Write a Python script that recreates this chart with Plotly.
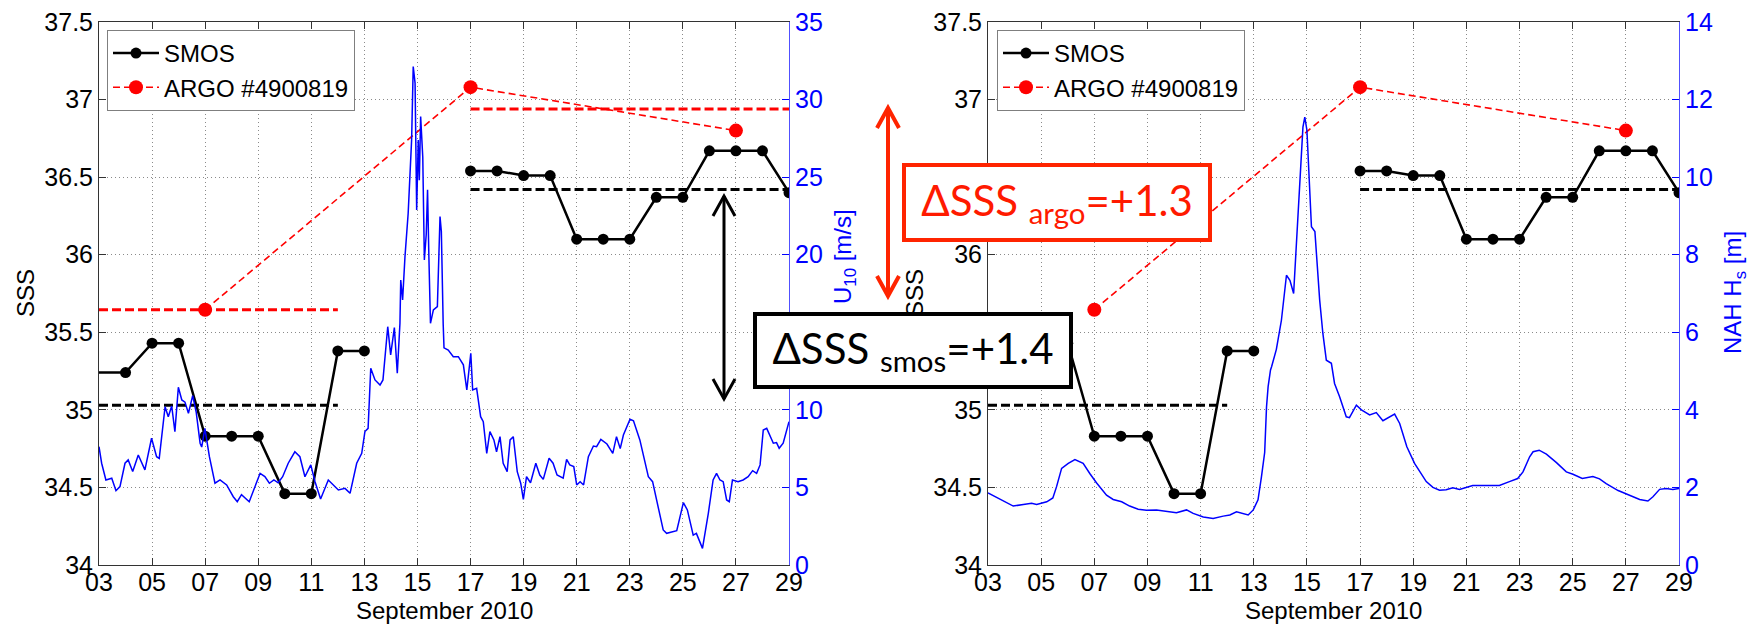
import plotly.graph_objects as go

W, H = 1752, 626

# ---------------- data ----------------
smos_days = [2, 4, 5, 6, 7, 8, 9, 10, 11, 12, 13, None,
             17, 18, 19, 20, 21, 22, 23, 24, 25, 26, 27, 28, 29]
smos_sss = [35.24, 35.24, 35.43, 35.43, 34.83, 34.83, 34.83, 34.46, 34.46, 35.38, 35.38, None,
            36.54, 36.54, 36.51, 36.51, 36.10, 36.10, 36.10, 36.37, 36.37, 36.67, 36.67, 36.67, 36.40]

argo_days = [7, 17, 27]
argo_sss = [35.645, 37.08, 36.80]

mean_periods = [(3, 12), (17, 29)]
smos_means = [35.03, 36.42]
argo_means = [35.645, 36.94]

wind_days = [3.00, 3.10, 3.26, 3.48, 3.64, 3.79, 3.98, 4.10, 4.27, 4.48, 4.73, 4.98, 5.17, 5.27,
             5.49, 5.61, 5.74, 5.86, 5.99, 6.12, 6.24, 6.37, 6.53, 6.66, 6.81, 6.87, 6.99, 7.16,
             7.37, 7.56, 7.81, 8.06, 8.21, 8.37, 8.66, 8.81, 9.07, 9.25, 9.42, 9.59, 9.75, 9.92,
             10.13, 10.38, 10.57, 10.76, 10.98, 11.14, 11.35, 11.64, 11.83, 12.02, 12.27, 12.46,
             12.71, 12.90, 13.02, 13.14, 13.24, 13.40, 13.59, 13.70, 13.88, 13.99, 14.13, 14.24,
             14.34, 14.37, 14.44, 14.53, 14.65, 14.78, 14.84, 14.91, 14.97, 15.03, 15.07, 15.12,
             15.20, 15.26, 15.33, 15.38, 15.43, 15.49, 15.60, 15.75, 15.85, 15.90, 15.97, 16.00,
             16.16, 16.35, 16.54, 16.73, 16.86, 17.01, 17.08, 17.23, 17.38, 17.48, 17.61, 17.73,
             17.88, 17.98, 18.11, 18.23, 18.38, 18.49, 18.61, 18.76, 18.89, 18.99, 19.11, 19.26,
             19.46, 19.61, 19.74, 19.96, 20.11, 20.26, 20.49, 20.62, 20.74, 20.89, 21.00, 21.13,
             21.26, 21.44, 21.63, 21.75, 21.91, 22.14, 22.36, 22.50, 22.64, 22.76, 23.01, 23.14,
             23.38, 23.70, 23.86, 24.08, 24.26, 24.39, 24.77, 25.02, 25.17, 25.39, 25.51, 25.74,
             25.96, 26.14, 26.27, 26.40, 26.52, 26.65, 26.75, 26.87, 27.08, 27.27, 27.46, 27.63,
             27.78, 27.91, 28.03, 28.16, 28.41, 28.53, 28.63, 28.78, 29.00]
wind_u10 = [7.63, 6.56, 5.48, 5.59, 4.79, 5.05, 6.56, 6.77, 6.02, 7.09, 6.13, 8.17, 6.98, 6.87,
            10.2, 9.56, 10.25, 8.6, 11.46, 10.64, 10.5, 9.78, 10.92, 9.88, 7.85, 7.6, 8.81, 6.98,
            5.27, 5.48, 5.16, 4.4, 4.08, 4.53, 4.08, 4.8, 5.91, 5.7, 5.27, 5.48, 5.3, 5.69,
            6.56, 7.3, 6.98, 5.69, 6.45, 5.37, 4.25, 5.48, 5.16, 4.84, 4.94, 4.62,
            6.56, 7.2, 8.6, 8.81, 12.68, 11.93, 11.6, 11.93, 15.36, 13.54, 15.3, 12.36,
            15.58, 18.37, 17.09, 19.88, 22.67, 27.4, 32.13, 31.06, 22.89, 27.4, 24.8, 28.9,
            26.3, 19.66, 21.3, 24.18, 19.9, 15.58, 16.44, 16.66, 22.46, 21.5, 15.5, 14.0,
            13.86, 13.43, 13.43, 12.9, 11.28, 13.65, 11.28, 11.39, 9.56, 9.24, 7.2, 8.6,
            8.06, 7.3, 8.27, 6.56, 6.02, 8.06, 8.27, 6.02, 5.27, 4.23, 5.69, 5.3,
            6.56, 5.8, 5.52, 6.88, 6.56, 5.8, 5.6, 6.81, 6.45, 6.34, 5.16, 5.37,
            5.16, 6.98, 7.67, 7.63, 8.1, 7.8, 7.2, 8.27, 7.5, 8.38, 9.39, 9.3,
            8.06, 5.69, 5.37, 3.76, 2.26, 2.04, 2.21, 4.02, 3.55, 1.93, 2.04, 1.07,
            3.33, 5.48, 5.91, 5.48, 5.37, 4.19, 4.08, 5.48, 5.37, 5.48, 5.69, 6.08,
            5.91, 6.45, 8.7, 8.81, 7.85, 7.89, 7.52, 7.85, 9.24]

hs_days = [3.00, 3.45, 3.95, 4.33, 4.64, 4.83, 5.21, 5.44, 5.58, 5.77, 6.02, 6.27, 6.58, 6.83,
           7.08, 7.46, 7.71, 8.03, 8.33, 8.65, 8.96, 9.34, 9.71, 10.09, 10.47, 10.72, 11.10,
           11.47, 11.85, 12.10, 12.35, 12.60, 12.79, 12.98, 13.16, 13.29, 13.41, 13.48, 13.54,
           13.63, 13.67, 13.85, 13.98, 14.04, 14.23, 14.36, 14.50, 14.66, 14.85, 14.92, 15.00,
           15.17, 15.30, 15.48, 15.60, 15.73, 15.92, 16.04, 16.23, 16.48, 16.60, 16.86, 17.05,
           17.36, 17.61, 17.86, 18.11, 18.30, 18.49, 18.76, 19.05, 19.49, 19.74, 19.99, 20.24,
           20.49, 20.74, 20.99, 21.24, 21.74, 22.24, 22.62, 22.93, 23.13, 23.38, 23.51, 23.74,
           24.01, 24.39, 24.76, 25.01, 25.36, 25.76, 26.01, 26.26, 26.71, 27.02, 27.27, 27.52,
           27.83, 28.02, 28.27, 28.52, 28.77, 29.00]
hs_m = [1.86, 1.69, 1.52, 1.56, 1.59, 1.56, 1.63, 1.73, 2.02, 2.49, 2.62, 2.72, 2.62, 2.36,
        2.12, 1.80, 1.69, 1.63, 1.52, 1.44, 1.41, 1.42, 1.38, 1.35, 1.42, 1.33, 1.24,
        1.20, 1.26, 1.29, 1.37, 1.33, 1.29, 1.42, 1.68, 2.28, 2.9, 4.08, 4.6,
        5.03, 5.11, 5.56, 6.06, 6.31, 7.47, 7.34, 7.0, 8.89, 11.29, 11.55, 11.21,
        8.72, 8.6, 6.83, 5.97, 5.28, 5.2, 4.68, 4.34, 3.82, 3.8, 4.12, 4.0,
        3.87, 3.93, 3.72, 3.82, 3.89, 3.65, 3.05, 2.62, 2.15, 2.0, 1.93, 1.94,
        1.99, 1.95, 2.0, 2.05, 2.05, 2.05, 2.15, 2.23, 2.4, 2.79, 2.92, 2.96,
        2.86, 2.64, 2.4, 2.34, 2.23, 2.28, 2.22, 2.1, 1.92, 1.83, 1.76, 1.69,
        1.65, 1.76, 1.95, 1.97, 1.95, 1.97]

x_tickvals = list(range(3, 30, 2))
x_ticktext = ["%02d" % d for d in x_tickvals]
sss_ticks = [34, 34.5, 35, 35.5, 36, 36.5, 37, 37.5]
u10_ticks = [0, 5, 10, 15, 20, 25, 30, 35]
hs_ticks = [0, 2, 4, 6, 8, 10, 12, 14]

# ---------------- styling ----------------
TICKFONT = "Liberation Sans, Arial, sans-serif"
BOXFONT = "Lato, 'Noto Sans', sans-serif"
BLUE = "#0000FF"
RED = "#FF0000"
ORANGE_RED = "#FF2400"


def px(x):
    return x / W


def py(y):
    return 1 - y / H


def seg_xy(periods, values):
    xs, ys = [], []
    for (a, b), v in zip(periods, values):
        xs += [a, b, None]
        ys += [v, v, None]
    return xs, ys


fig = go.Figure()

panels = [
    dict(xa="x", ya="y", ya2="y2", legend="legend", sec_x=wind_days, sec_y=wind_u10, argo_mean=True),
    dict(xa="x2", ya="y3", ya2="y4", legend="legend2", sec_x=hs_days, sec_y=hs_m, argo_mean=False),
]

for p in panels:
    mx, my = seg_xy(mean_periods, smos_means)
    fig.add_trace(go.Scatter(x=mx, y=my, mode="lines", xaxis=p["xa"], yaxis=p["ya"],
                             line=dict(color="black", width=3, dash="9px,4px"),
                             showlegend=False, hoverinfo="skip"))
    if p["argo_mean"]:
        ax_, ay_ = seg_xy(mean_periods, argo_means)
        fig.add_trace(go.Scatter(x=ax_, y=ay_, mode="lines", xaxis=p["xa"], yaxis=p["ya"],
                                 line=dict(color=RED, width=3, dash="9px,4px"),
                                 showlegend=False, hoverinfo="skip"))
    fig.add_trace(go.Scatter(x=smos_days, y=smos_sss, mode="lines+markers", name="SMOS",
                             xaxis=p["xa"], yaxis=p["ya"], legend=p["legend"],
                             line=dict(color="black", width=2.5),
                             marker=dict(color="black", size=11)))
    fig.add_trace(go.Scatter(x=argo_days, y=argo_sss, mode="lines+markers", name="ARGO #4900819",
                             xaxis=p["xa"], yaxis=p["ya"], legend=p["legend"],
                             line=dict(color=RED, width=1.6, dash="7px,4px"),
                             marker=dict(color=RED, size=14)))
    fig.add_trace(go.Scatter(x=p["sec_x"], y=p["sec_y"], mode="lines",
                             xaxis=p["xa"], yaxis=p["ya2"],
                             line=dict(color=BLUE, width=1.5),
                             showlegend=False))

ydom = [py(565), py(22)]
common_x = dict(range=[3, 29], tickmode="array", tickvals=x_tickvals, ticktext=x_ticktext,
                ticks="inside", ticklen=7, tickcolor="#333333", showline=True, linecolor="#333333",
                linewidth=1, mirror="ticks", showgrid=True, gridcolor="#8a8a8a", griddash="1px,3px",
                gridwidth=1, zeroline=False, automargin=False, ticklabelstandoff=-5,
                tickfont=dict(family=TICKFONT, size=25, color="black"))
common_y = dict(range=[34, 37.5], tickmode="array", tickvals=sss_ticks,
                ticktext=[("%g" % v) for v in sss_ticks],
                ticks="inside", ticklen=7, tickcolor="#333333", showline=True, linecolor="#333333",
                linewidth=1, showgrid=True, gridcolor="#8a8a8a", griddash="1px,3px", gridwidth=1,
                zeroline=False, domain=ydom, automargin=False,
                tickfont=dict(family=TICKFONT, size=25, color="black"))
common_y2 = dict(side="right", ticks="inside", ticklen=7, tickcolor=BLUE, showline=True,
                 linecolor="#5050FF", linewidth=1, showgrid=False, zeroline=False,
                 automargin=False,
                 tickfont=dict(family=TICKFONT, size=25, color=BLUE), tickmode="array")

legend_common = dict(y=py(30), xanchor="left", yanchor="top", bgcolor="white",
                     bordercolor="#7f7f7f", borderwidth=1, itemwidth=46,
                     font=dict(family=TICKFONT, size=24, color="black"), tracegroupgap=0)

fig.update_layout(
    width=W, height=H, autosize=False,
    margin=dict(l=0, r=0, t=0, b=0, pad=0, autoexpand=False),
    paper_bgcolor="white", plot_bgcolor="white",
    xaxis=dict(domain=[px(99), px(789)], anchor="y", **common_x),
    xaxis2=dict(domain=[px(988), px(1679)], anchor="y3", **common_x),
    yaxis=dict(anchor="x", **common_y),
    yaxis3=dict(anchor="x2", **common_y),
    yaxis2=dict(overlaying="y", anchor="x", range=[0, 35], tickvals=u10_ticks, **common_y2),
    yaxis4=dict(overlaying="y3", anchor="x2", range=[0, 14], tickvals=hs_ticks, **common_y2),
    legend=dict(x=px(107), **legend_common),
    legend2=dict(x=px(997), **legend_common),
    showlegend=True,
)

# ---------------- arrows (shapes) ----------------
def double_arrow(x, y_top, y_bot, half_w, head_h, color, width):
    shapes = [
        dict(type="line", xref="paper", yref="paper", x0=px(x), x1=px(x), y0=py(y_top), y1=py(y_bot),
             line=dict(color=color, width=width)),
        dict(type="path", xref="paper", yref="paper",
             path="M %f,%f L %f,%f L %f,%f" % (px(x - half_w), py(y_top + head_h), px(x), py(y_top),
                                               px(x + half_w), py(y_top + head_h)),
             line=dict(color=color, width=width)),
        dict(type="path", xref="paper", yref="paper",
             path="M %f,%f L %f,%f L %f,%f" % (px(x - half_w), py(y_bot - head_h), px(x), py(y_bot),
                                               px(x + half_w), py(y_bot - head_h)),
             line=dict(color=color, width=width)),
    ]
    return shapes


shapes = double_arrow(888, 108, 296, 11, 20, ORANGE_RED, 4) + double_arrow(724, 196, 399, 11, 20, "black", 3)
fig.update_layout(shapes=shapes)

# ---------------- annotations (titles, then boxes on top) ----------------
ann = []
title_font = dict(family=TICKFONT, size=24, color="black")
ann.append(dict(text="SSS", x=px(25), y=py(293), xref="paper", yref="paper", textangle=-90,
                showarrow=False, xanchor="center", yanchor="middle", font=title_font))
ann.append(dict(text="SSS", x=px(914), y=py(293), xref="paper", yref="paper", textangle=-90,
                showarrow=False, xanchor="center", yanchor="middle", font=title_font))
ann.append(dict(text="U<sub>10</sub> [m/s]", x=px(845), y=py(257), xref="paper", yref="paper",
                textangle=-90, showarrow=False, xanchor="center", yanchor="middle",
                font=dict(family=TICKFONT, size=24, color=BLUE)))
ann.append(dict(text="NAH H<sub>s</sub> [m]", x=px(1734), y=py(293), xref="paper", yref="paper",
                textangle=-90, showarrow=False, xanchor="center", yanchor="middle",
                font=dict(family=TICKFONT, size=24, color=BLUE)))
ann.append(dict(text="September 2010", x=px(444), y=py(610), xref="paper", yref="paper",
                showarrow=False, xanchor="center", yanchor="middle", font=title_font))
ann.append(dict(text="September 2010", x=px(1333), y=py(610), xref="paper", yref="paper",
                showarrow=False, xanchor="center", yanchor="middle", font=title_font))
# boxes
ann.append(dict(text="ΔSSS <sub>argo</sub>=+1.3", x=px(902), y=py(163), xref="paper", yref="paper",
                showarrow=False, xanchor="left", yanchor="top", width=302, height=71,
                borderwidth=4, borderpad=0, bordercolor=ORANGE_RED, bgcolor="white",
                align="center", valign="middle",
                font=dict(family=BOXFONT, size=42, color="#FF1A00")))
ann.append(dict(text="ΔSSS <sub>smos</sub>=+1.4", x=px(753), y=py(312), xref="paper", yref="paper",
                showarrow=False, xanchor="left", yanchor="top", width=312, height=69,
                borderwidth=4, borderpad=0, bordercolor="black", bgcolor="white",
                align="center", valign="middle",
                font=dict(family=BOXFONT, size=42, color="black")))
fig.update_layout(annotations=ann)

fig.write_html("out.html", config={"displayModeBar": False})
